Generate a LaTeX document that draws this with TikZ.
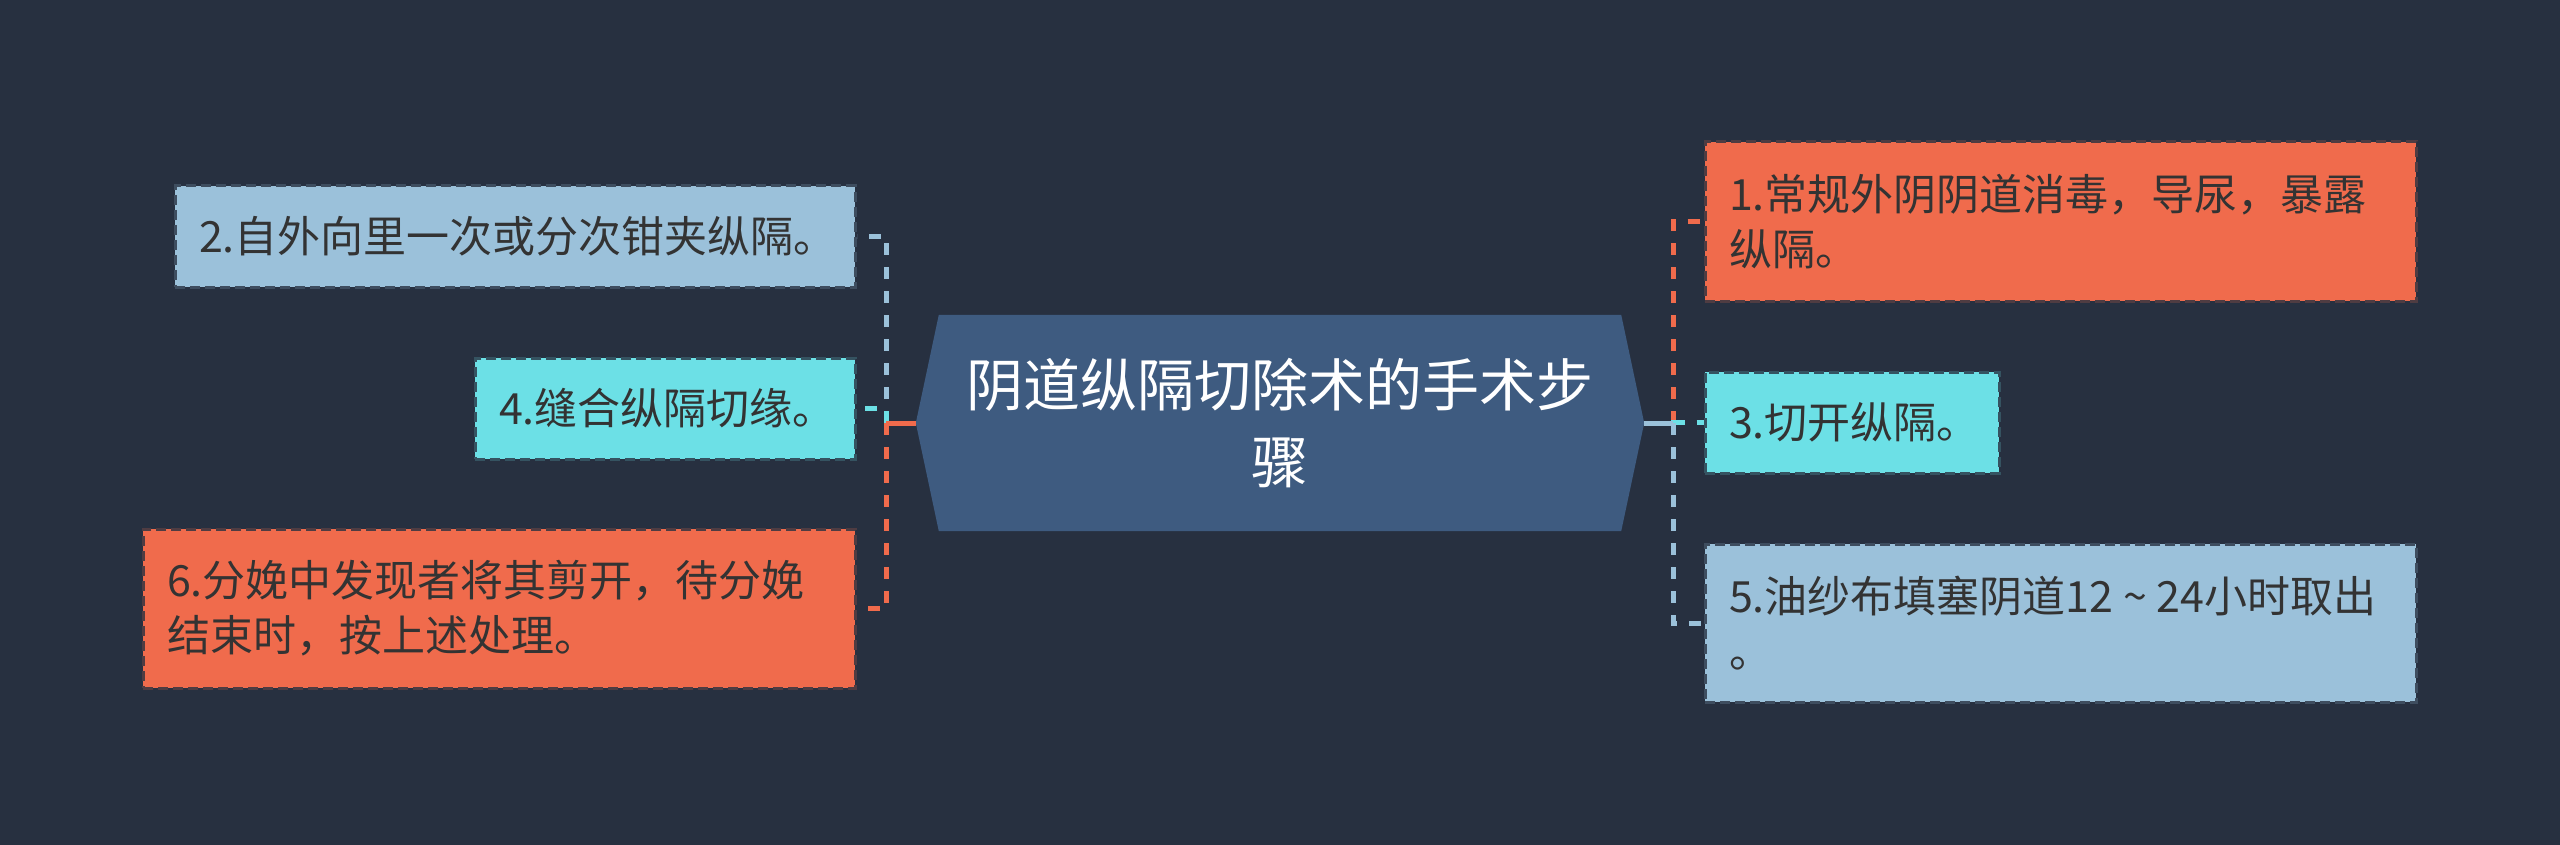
\documentclass[tikz,border=0pt]{standalone}
\usepackage{fontspec}
\setmainfont{Noto Sans CJK SC}
\definecolor{bgc}{HTML}{273040}
\definecolor{hexc}{HTML}{3E5B80}
\definecolor{orc}{HTML}{F06B4C}
\definecolor{cyc}{HTML}{6CE0E6}
\definecolor{lbc}{HTML}{9BC1DA}
\definecolor{txc}{HTML}{333333}
\tikzset{
  leaf/.style={rectangle, inner xsep=24pt, inner ysep=0pt, align=left,
    font=\fontsize{43}{55}\selectfont, text=txc, line width=3pt,
    dash pattern=on 10pt off 5pt},
  conn/.style={line width=5pt},
  dconn/.style={line width=5pt, dash pattern=on 12pt off 12pt},
  titletext/.style={font=\fontsize{57}{77}\selectfont, text=white, align=center, inner sep=0pt},
}
\begin{document}
\begin{tikzpicture}[x=1pt,y=-1pt]
  \fill[bgc] (0,0) rectangle (2560,845);
  \useasboundingbox (0,0) rectangle (2560,845);

  % root hexagon
  \node[minimum width=728pt, minimum height=216pt, inner sep=0pt] (root) at (1280,423) {};
  \fill[hexc] ([xshift=23pt]root.north west) -- ([xshift=-23pt]root.north east) -- (root.east)
    -- ([xshift=-23pt]root.south east) -- ([xshift=23pt]root.south west) -- (root.west) -- cycle;
  \node[titletext] (title) at (root.center) {阴道纵隔切除术的手术步\\骤};

  % left leaves
  \node[leaf, fill=lbc, draw=bgc!80!lbc, text width=632pt, minimum height=101pt] (b2) at (515,236.5) {2.自外向里一次或分次钳夹纵隔。};
  \node[leaf, fill=cyc, draw=bgc!80!cyc, text width=332pt, minimum height=101pt] (b4) at (665,408.5) {4.缝合纵隔切缘。};
  \node[leaf, fill=orc, draw=bgc!80!orc, text width=664pt, minimum height=159pt] (b6) at (499,608.5) {6.分娩中发现者将其剪开，待分娩\\结束时，按上述处理。};

  % right leaves
  \node[leaf, fill=orc, draw=bgc!80!orc, text width=663pt, minimum height=159pt] (b1) at (2060.5,221.5) {1.常规外阴阴道消毒，导尿，暴露\\纵隔。};
  \node[leaf, fill=cyc, draw=bgc!80!cyc, text width=246pt, minimum height=101pt] (b3) at (1852,422.5) {3.切开纵隔。};
  \node[leaf, fill=lbc, draw=bgc!80!lbc, text width=663pt, minimum height=158pt] (b5) at (2060.5,623) {5.油纱布填塞阴道12\hbox to 1em{\hss\textasciitilde\hss}24小时取出\\。};

  % trunk points
  \coordinate (Lt) at (886,423);
  \coordinate (Rt) at (1673,423);

  % left connectors
  \draw[conn, lbc] (root.west) -- (Lt);
  \draw[dconn, lbc] (Lt) |- (b2.east);
  \draw[conn, cyc] (root.west) -- (Lt);
  \draw[dconn, cyc] (Lt) |- (b4.east);
  \draw[conn, orc] (root.west) -- (Lt);
  \draw[dconn, orc] (Lt) |- (b6.east);

  % right connectors
  \draw[conn, orc] (root.east) -- (Rt);
  \draw[dconn, orc] (Rt) |- (b1.west);
  \draw[conn, cyc] (root.east) -- (Rt);
  \draw[dconn, cyc] (Rt) |- (b3.west);
  \draw[conn, lbc] (root.east) -- (Rt);
  \draw[dconn, lbc] (Rt) |- (b5.west);
\end{tikzpicture}
\end{document}
